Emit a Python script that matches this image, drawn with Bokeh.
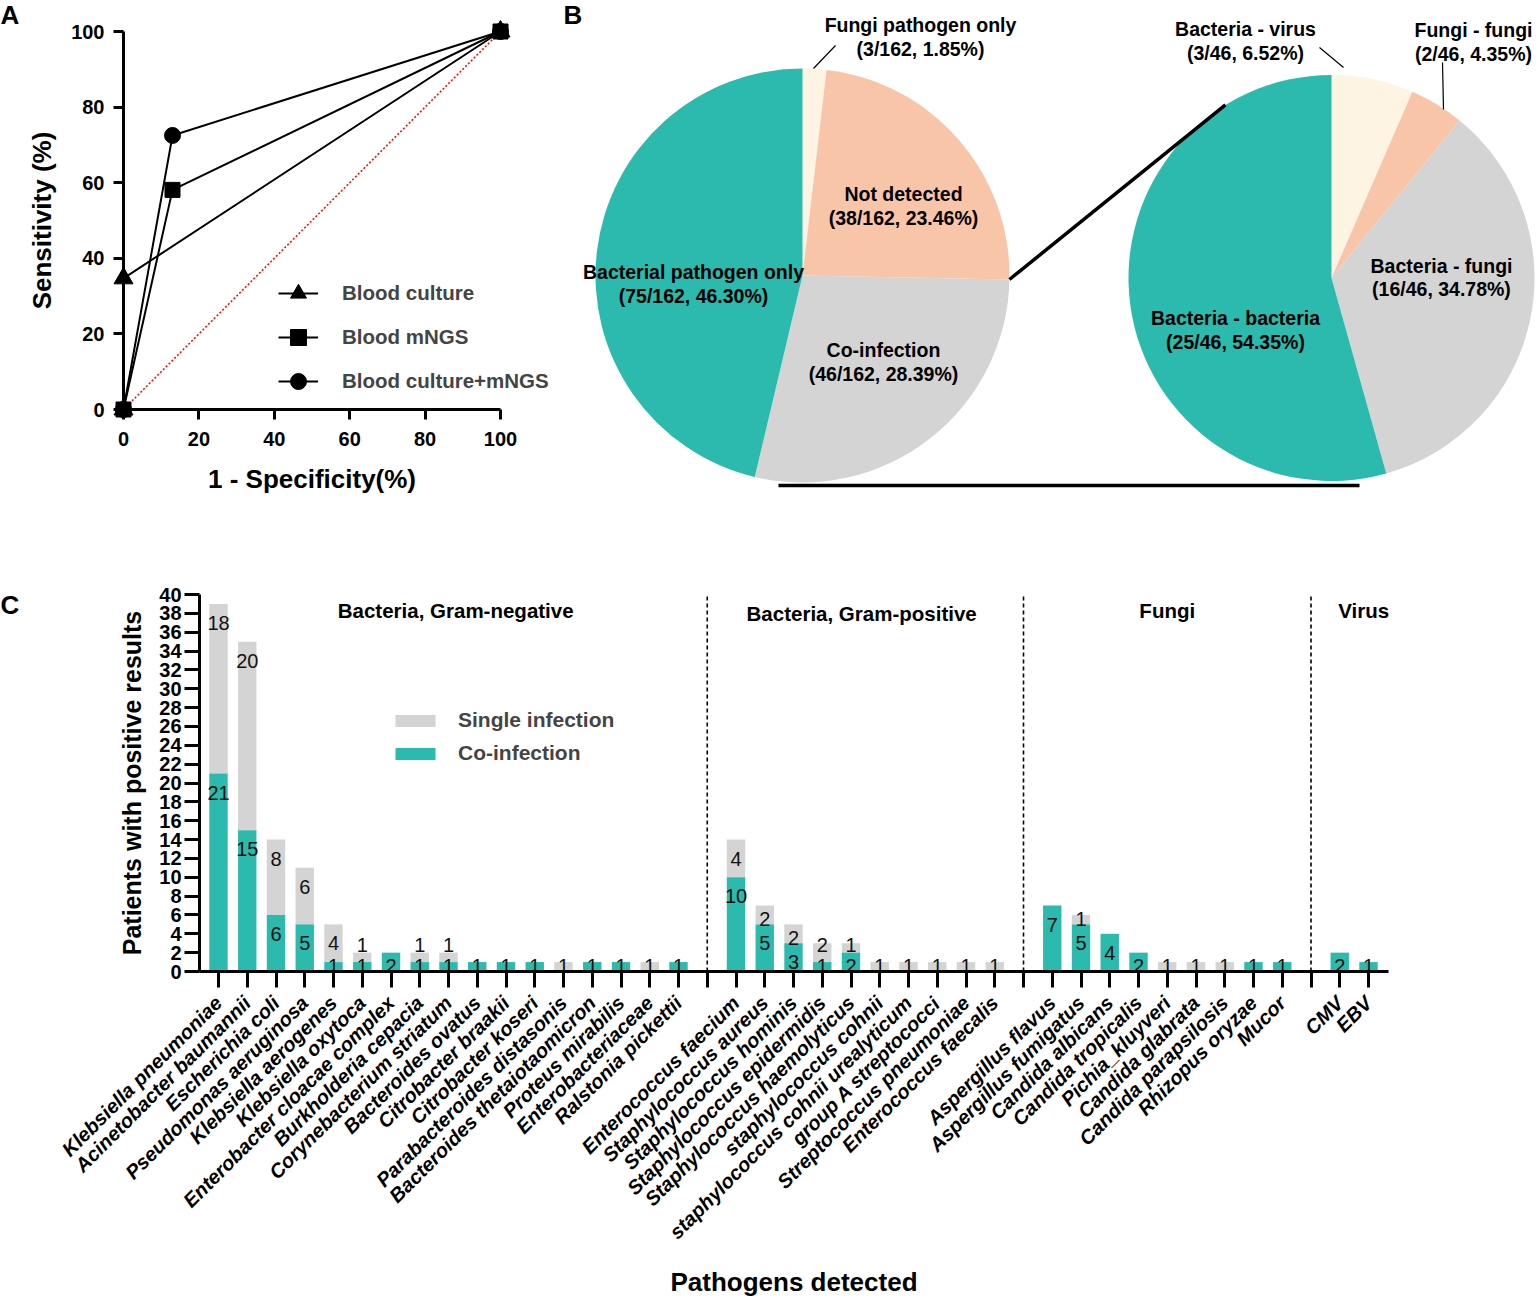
import math
from bokeh.plotting import figure
from bokeh.models import ColumnDataSource, Legend, LegendItem, Label, FixedTicker, Range1d
from bokeh.layouts import column, row
from bokeh.embed import file_html
from bokeh.resources import INLINE
from bokeh.core.properties import value

FONT = "Liberation Sans"
TEAL = "#2BBAAD"
GRAY = "#D4D4D4"
PEACH = "#F9C5A9"
CREAM = "#FEF4E4"

# ---------------- Panel A data ----------------
roc_names = ["Blood culture", "Blood mNGS", "Blood culture+mNGS"]
culture_x = [0, 0, 100]
culture_y = [0, 34.7, 100]
mngs_x = [0, 13.0, 100]
mngs_y = [0, 58.1, 100]
comb_x = [0, 13.0, 100]
comb_y = [0, 72.5, 100]
ref_x = [0, 100]
ref_y = [0, 100]
roc_ticks = [0, 20, 40, 60, 80, 100]

# ---------------- Panel B data ----------------
pie1_labels = ["Fungi pathogen only", "Not detected", "Co-infection", "Bacterial pathogen only"]
pie1_counts = [3, 38, 46, 75]
pie1_pcts = ["1.85", "23.46", "28.39", "46.30"]
pie2_labels = ["Bacteria - virus", "Fungi - fungi", "Bacteria - fungi", "Bacteria - bacteria"]
pie2_counts = [3, 2, 16, 25]
pie2_pcts = ["6.52", "4.35", "34.78", "54.35"]
pie_colors = [CREAM, PEACH, GRAY, TEAL]

# ---------------- Panel C data ----------------
group_titles = ["Bacteria, Gram-negative", "Bacteria, Gram-positive", "Fungi", "Virus"]
gn_names = ["Klebsiella pneumoniae", "Acinetobacter baumannii", "Escherichia coli",
            "Pseudomonas aeruginosa", "Klebsiella aerogenes", "Klebsiella oxytoca",
            "Enterobacter cloacae complex", "Burkholderia cepacia", "Corynebacterium striatum",
            "Bacteroides ovatus", "Citrobacter braakii", "Citrobacter koseri",
            "Parabacteroides distasonis", "Bacteroides thetaiotaomicron", "Proteus mirabilis",
            "Enterobacteriaceae", "Ralstonia pickettii"]
gn_co = [21, 15, 6, 5, 1, 1, 2, 1, 1, 1, 1, 1, 0, 1, 1, 0, 1]
gn_single = [18, 20, 8, 6, 4, 1, 0, 1, 1, 0, 0, 0, 1, 0, 0, 1, 0]
gp_names = ["Enterococcus faecium", "Staphylococcus aureus", "Staphylococcus hominis",
            "Staphylococcus epidermidis", "Staphylococcus haemolyticus", "staphylococcus cohnii",
            "staphylococcus cohnii urealyticum", "group A streptococci",
            "Streptococcus pneumoniae", "Enterococcus faecalis"]
gp_co = [10, 5, 3, 1, 2, 0, 0, 0, 0, 0]
gp_single = [4, 2, 2, 2, 1, 1, 1, 1, 1, 1]
fu_names = ["Aspergillus flavus", "Aspergillus fumigatus", "Candida albicans",
            "Candida tropicalis", "Pichia_kluyveri", "Candida glabrata",
            "Candida parapsilosis", "Rhizopus oryzae", "Mucor"]
fu_co = [7, 5, 4, 2, 0, 0, 0, 1, 1]
fu_single = [0, 1, 0, 0, 1, 1, 1, 0, 0]
vi_names = ["CMV", "EBV"]
vi_co = [2, 1]
vi_single = [0, 0]
bar_yticks = list(range(0, 41, 2))


def style_axis(ax, tick_size="20px", label_size="24px"):
    ax.axis_line_width = 3
    ax.axis_line_color = "black"
    ax.major_tick_line_width = 3
    ax.major_tick_line_color = "black"
    ax.major_tick_in = 0
    ax.minor_tick_line_color = None
    ax.major_label_text_font = FONT
    ax.major_label_text_font_style = "bold"
    ax.major_label_text_font_size = tick_size
    ax.major_label_text_color = "black"
    ax.axis_label_text_font = FONT
    ax.axis_label_text_font_style = "bold"
    ax.axis_label_text_font_size = label_size
    ax.axis_label_text_color = "black"


def panel_letter(p, text, x, y):
    p.add_layout(Label(x=x, y=y, x_units="screen", y_units="screen", text=text,
                       text_font=FONT, text_font_style="bold", text_font_size="26px",
                       text_baseline="middle", text_align="left", text_color="black"))


# ================= Panel A =================
# frame covers the whole figure; axes are pinned at 0
axpx = 377.0 / 100
aypx = 378.0 / 100
pA = figure(frame_width=560, frame_height=500,
            x_range=Range1d(-123 / axpx, (560 - 123) / axpx),
            y_range=Range1d(-(500 - 409) / aypx, 409 / aypx),
            output_backend="svg", toolbar_location=None, min_border=0,
            x_axis_label="1 - Specificity(%)", y_axis_label="Sensitivity (%)")
pA.grid.visible = False
pA.outline_line_color = None
for ax in (pA.xaxis[0], pA.yaxis[0]):
    style_axis(ax, tick_size="20px", label_size="26px")
    ax.fixed_location = 0
    ax.bounds = (0, 100)
    ax.ticker = FixedTicker(ticks=roc_ticks)
    ax.major_tick_out = 10
pA.xaxis[0].major_label_standoff = 12
pA.xaxis[0].axis_label_standoff = 15
pA.yaxis[0].major_label_standoff = 9
pA.yaxis[0].axis_label_standoff = 11

pA.line(ref_x, ref_y, line_color="red", line_dash="2 2", line_width=1.5)
l_cul = pA.line(culture_x, culture_y, line_color="black", line_width=2)
s_cul = pA.scatter(culture_x, culture_y, marker="triangle", size=19, color="black")
l_com = pA.line(comb_x, comb_y, line_color="black", line_width=2)
s_com = pA.scatter(comb_x, comb_y, marker="circle", size=16, color="black")
l_mng = pA.line(mngs_x, mngs_y, line_color="black", line_width=2)
s_mng = pA.scatter(mngs_x, mngs_y, marker="square", size=15, color="black")

legA = Legend(items=[LegendItem(label=roc_names[0], renderers=[l_cul, s_cul]),
                     LegendItem(label=roc_names[1], renderers=[l_mng, s_mng]),
                     LegendItem(label=roc_names[2], renderers=[l_com, s_com])],
              location=(278, 98), glyph_width=40, glyph_height=42, label_height=20,
              spacing=2, label_standoff=24, padding=0, margin=0,
              border_line_color=None, background_fill_alpha=0,
              label_text_font=FONT, label_text_font_style="bold", label_text_font_size="20.5px")
pA.add_layout(legA)
panel_letter(pA, "A", 0, 486)

# ================= Panel B =================
pB = figure(frame_width=976, frame_height=500, x_range=Range1d(0, 976), y_range=Range1d(0, 500),
            output_backend="svg", toolbar_location=None, min_border=0,
            x_axis_location=None, y_axis_location=None)
pB.grid.visible = False
pB.outline_line_color = None


def pie_angles(counts):
    total = sum(counts)
    starts, ends = [], []
    cum = 0
    for c in counts:
        starts.append(math.pi / 2 - 2 * math.pi * (cum + c) / total)
        ends.append(math.pi / 2 - 2 * math.pi * cum / total)
        cum += c
    return starts, ends


c1 = (242, 225)
r1 = 207
c2 = (771, 222.5)
r2 = 203
s1, e1 = pie_angles(pie1_counts)
s2, e2 = pie_angles(pie2_counts)
pB.wedge(x=c1[0], y=c1[1], radius=r1, start_angle=s1, end_angle=e1,
         fill_color=pie_colors, line_color=None)
pB.wedge(x=c2[0], y=c2[1], radius=r2, start_angle=s2, end_angle=e2,
         fill_color=pie_colors, line_color=None)

# connector lines between the pies
a_join = s1[1]
jx = c1[0] + r1 * math.cos(a_join)
jy = c1[1] + r1 * math.sin(a_join)
a_to = math.radians(121.5)
tx = c2[0] + r2 * math.cos(a_to)
ty = c2[1] + r2 * math.sin(a_to)
pB.segment(x0=[jx, 218], y0=[jy, 15], x1=[tx, 799], y1=[ty, 15], line_color="black", line_width=3.5)

# leader lines
pB.segment(x0=[253, 783, 883], y0=[432, 433, 391], x1=[275, 759, 882], y1=[455, 453, 438],
           line_color="black", line_width=1.2)

t1 = [f"{n}\n({c}/{sum(pie1_counts)}, {p}%)" for n, c, p in zip(pie1_labels, pie1_counts, pie1_pcts)]
t2 = [f"{n}\n({c}/{sum(pie2_counts)}, {p}%)" for n, c, p in zip(pie2_labels, pie2_counts, pie2_pcts)]
pB.text(x=[360, 343, 323, 133] + [685, 913, 881, 675],
        y=[463.5, 294.5, 138.5, 216.5] + [459.5, 458.5, 223, 170.5],
        text=t1 + t2, text_font=value(FONT), text_font_style="bold", text_font_size="19.5px",
        text_align="center", text_baseline="middle", text_line_height=1.05, text_color="black")
pB.text(x=[3], y=[486], text=["B"], text_font=value(FONT), text_font_style="bold",
        text_font_size="26px", text_align="left", text_baseline="middle", text_color="black")

# ================= Panel C =================
groups = [(gn_names, gn_co, gn_single), (gp_names, gp_co, gp_single),
          (fu_names, fu_co, fu_single), (vi_names, vi_co, vi_single)]
xs, names, co, single, gaps, group_mid = [], [], [], [], [], []
slot = 0
for gi, (nm, c, s) in enumerate(groups):
    first = slot
    for n_, c_, s_ in zip(nm, c, s):
        xs.append(slot)
        names.append(n_)
        co.append(c_)
        single.append(s_)
        slot += 1
    group_mid.append((first + slot - 1) / 2)
    if gi < len(groups) - 1:
        gaps.append(slot)
        slot += 1
nslots = slot

PPU = 377.0 / 40    # pixels per count
SPX = 28.75         # pixels per slot
CW, CH = 1536, 796
X0PX, Y0PX = 218, 471
x_lo = -0.66
x_hi = 40.7
pC = figure(frame_width=CW, frame_height=CH,
            x_range=Range1d(-X0PX / SPX, (CW - X0PX) / SPX),
            y_range=Range1d(-(CH - Y0PX) / PPU, Y0PX / PPU),
            output_backend="svg", toolbar_location=None, min_border=0,
            x_axis_label="Pathogens detected", y_axis_label="Patients with positive results")
pC.grid.visible = False
pC.outline_line_color = None

xa = pC.xaxis[0]
ya = pC.yaxis[0]
style_axis(xa, tick_size="20px", label_size="26px")
style_axis(ya, tick_size="20px", label_size="25px")
xa.fixed_location = 0
xa.bounds = (x_lo, x_hi)
ya.fixed_location = x_lo
ya.bounds = (0, 40)
xa.ticker = FixedTicker(ticks=list(range(nslots)))
overrides = {i: "" for i in range(nslots)}
for xv, n_ in zip(xs, names):
    overrides[xv] = n_
xa.major_label_overrides = overrides
xa.major_label_orientation = math.pi / 4
xa.major_label_text_font_style = "bold italic"
xa.major_tick_out = 16
xa.major_label_standoff = 12
xa.axis_label_standoff = 13
ya.ticker = FixedTicker(ticks=bar_yticks)
ya.major_tick_out = 15
ya.major_label_standoff = 3
ya.axis_label_standoff = 10

src = ColumnDataSource(dict(x=xs, co=co, tot=[a + b for a, b in zip(co, single)]))
bw = 0.64
v_single = pC.vbar(x="x", bottom="co", top="tot", width=bw, fill_color=GRAY, line_color=None, source=src)
v_co = pC.vbar(x="x", bottom=0, top="co", width=bw, fill_color=TEAL, line_color=None, source=src)

# value labels
off = 19 / PPU
lx, ly, lt = [], [], []
for xv, c_, s_ in zip(xs, co, single):
    gy = None
    if c_ > 0:
        gy = max(c_ - off, 0.55)
        lx.append(xv); ly.append(gy); lt.append(str(c_))
    if s_ > 0:
        top = c_ + s_
        yy = max(top - off, c_ + 0.55)
        if gy is not None:
            yy = max(yy, gy + 21 / PPU)
        lx.append(xv); ly.append(yy); lt.append(str(s_))
pC.text(x=lx, y=ly, text=lt, text_font=value(FONT), text_font_size="20px",
        text_align="center", text_baseline="middle", text_color="#111111")

# dividers
pC.segment(x0=gaps, y0=[0] * len(gaps), x1=gaps, y1=[40] * len(gaps),
           line_color="black", line_width=1.6, line_dash="4 3")

# group titles
pC.text(x=[group_mid[0] + 0.25, group_mid[1] - 0.13, group_mid[2], group_mid[3] + 0.33],
        y=[38.3, 38.0, 38.3, 38.3], text=group_titles, text_font=value(FONT),
        text_font_style="bold", text_font_size="20.5px", text_align="center",
        text_baseline="middle", text_color="black")

legC = Legend(items=[LegendItem(label="Single infection", renderers=[v_single]),
                     LegendItem(label="Co-infection", renderers=[v_co])],
              location=(390, CH - 265), glyph_width=50, glyph_height=15, label_height=24,
              spacing=9, label_standoff=18, padding=0, margin=0,
              border_line_color=None, background_fill_alpha=0,
              label_text_font=FONT, label_text_font_style="bold", label_text_font_size="21px")
pC.add_layout(legC)
panel_letter(pC, "C", 0, CH - 104)

layout = column(row(pA, pB), pC)
open("out.html", "w").write(file_html(layout, INLINE))
